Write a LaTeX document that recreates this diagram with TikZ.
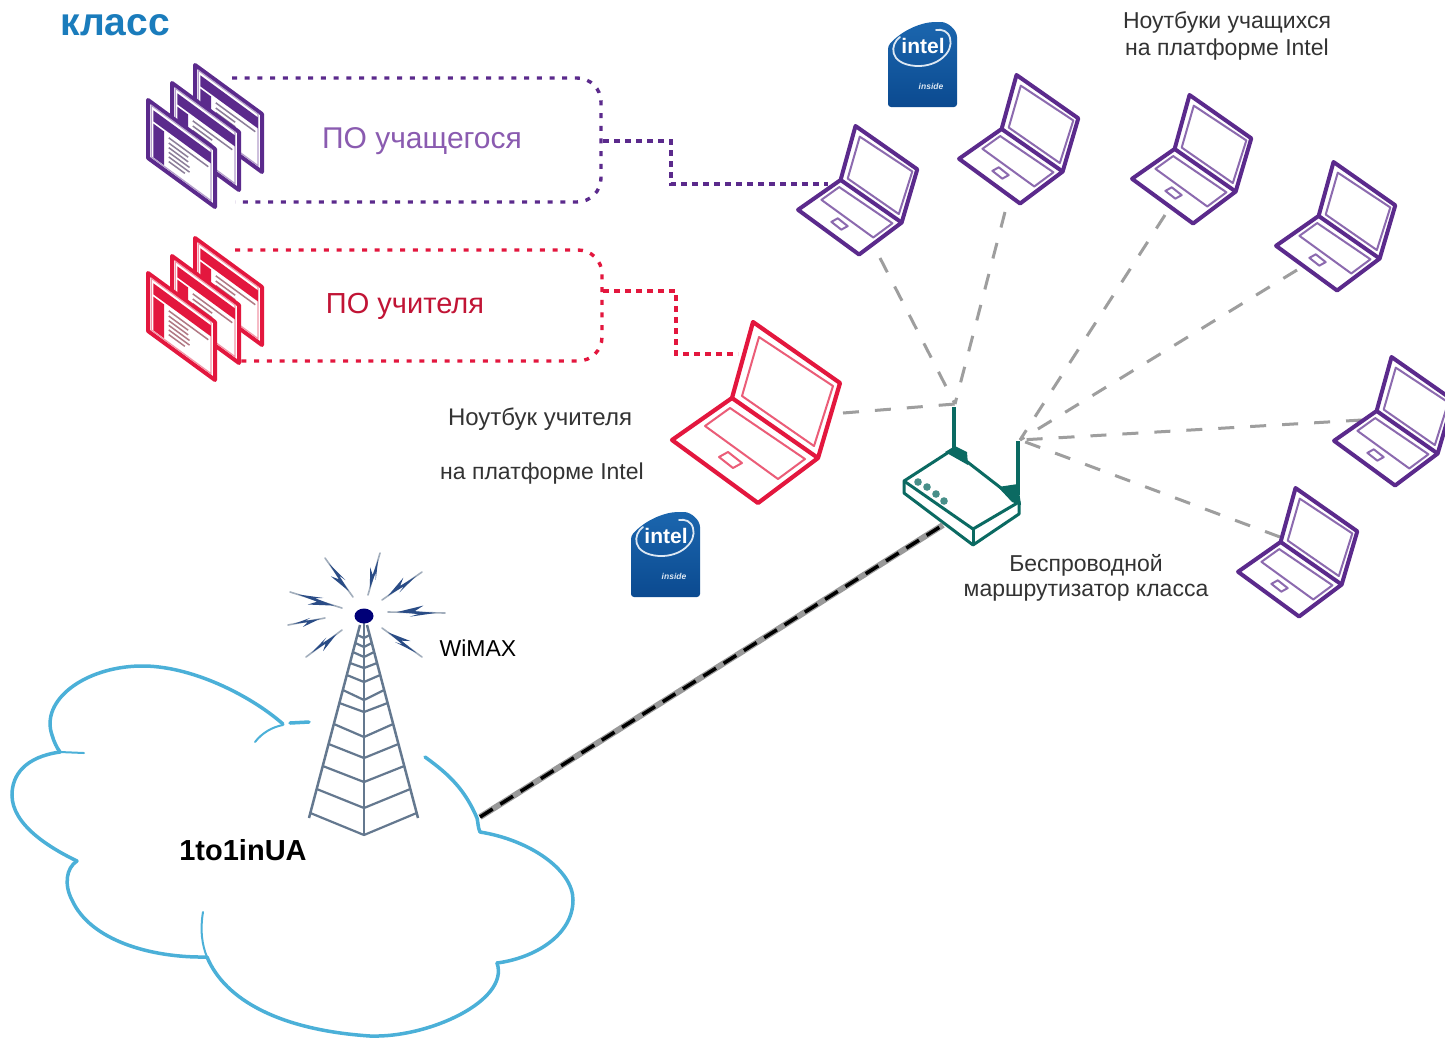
\documentclass[tikz,border=0pt]{standalone}
\usepackage{fontspec}
\setmainfont{Liberation Sans}
\usetikzlibrary{calc}
\definecolor{pur}{HTML}{5B2A8C}
\definecolor{purtxt}{HTML}{8A5BB0}
\definecolor{redc}{HTML}{E3173E}
\definecolor{teal2}{HTML}{0B6A62}
\definecolor{towerc}{HTML}{64788F}
\definecolor{cloudc}{HTML}{4BB0D8}
\definecolor{boltc}{HTML}{2A4C86}
\definecolor{intelt}{HTML}{1B66AE}
\definecolor{intelb}{HTML}{0B4A90}
\definecolor{txtc}{HTML}{333333}
\definecolor{titlec}{HTML}{1A7CBC}
\tikzset{
  x=1pt,y=-1pt,
  labeltext/.style={text=txtc,font=\fontsize{23}{27}\selectfont,inner sep=0pt,align=center},
  wifilink/.style={draw=black!38,line width=3pt,dash pattern=on 16pt off 16pt},
  dotbox/.style={line width=3.4pt,dash pattern=on 5pt off 7.7pt},
  dotlink/.style={line width=3.4pt,dash pattern=on 6pt off 5pt},
  cloudline/.style={draw=cloudc,line width=3.5pt,line cap=round},
  towerline/.style={draw=towerc,line width=2.5pt},
}
\newcommand{\laptopicon}[5]{%
\begin{scope}[shift={(#1,#2)},scale=#4]
 \filldraw[fill=white,draw=#3,line width=#5,line join=round]
   (81,0)--(168,61)--(146,136)--(86,181)--(0,118)--(60,76)--cycle;
 \draw[draw=#3,line width=#5,line join=round] (60,76)--(146,136);
 \draw[draw=#3!70,line width=2pt,line join=round]
   (87,15)--(161,64)--(142,124)--(70,74)--cycle;
 \draw[draw=#3!70,line width=2pt,line join=round]
   (58,86)--(133,137)--(106,157)--(33,104)--cycle;
 \draw[draw=#3!70,line width=2pt,line join=round]
   (56,130)--(70,141)--(61,146)--(47,135)--cycle;
\end{scope}}
\newcommand{\pageicon}[3]{%
\begin{scope}[shift={(#1,#2)},cm={.67,-.49,0,.58,(0,0)}]
 \filldraw[fill=white,draw=#3,line width=4pt,line join=round] (0,0)--(100,0)--(100,100)--(0,100)--cycle;
 \draw[draw=#3!45,line width=1.2pt] (5,5)--(94,5)--(94,94)--(5,94)--cycle;
 \fill[#3] (8,11)--(94,11)--(94,30)--(8,30)--cycle;
 \fill[#3] (8,34)--(24,34)--(24,92)--(8,92)--cycle;
 \foreach \v/\e in {39/90,48/60,56/60,64/62,72/62,80/55}{
   \draw[draw=#3!50!black!55,line width=1.5pt] (31,\v)--(\e,\v);}
\end{scope}}
\newcommand{\docstack}[3]{%
 \pageicon{#1+47}{#2-35}{#3}\pageicon{#1+24}{#2-17}{#3}\pageicon{#1}{#2}{#3}}
\newcommand{\intelbadge}[2]{%
\begin{scope}[shift={(#1,#2)}]
 \path[top color=intelt,bottom color=intelb,rounded corners=3pt]
   (0,24) .. controls (14,8) and (34,0) .. (50,0) .. controls (60,0) and (69,8) .. (69,18)
   -- (69,85) -- (0,85) -- cycle;
 \draw[white!85!intelt,line width=1.8pt,line cap=round]
   (12,15) .. controls (2,22) and (0,42) .. (28,44) .. controls (50,45) and (66,30) .. (62,16)
   .. controls (60,9) and (54,7) .. (48,8);
 \node[text=white,font=\fontsize{21}{21}\selectfont\bfseries,inner sep=0pt] at (35,24) {intel};
 \node[text=white!85!intelt,font=\fontsize{8.5}{9}\selectfont\bfseries\itshape,inner sep=0pt] at (43,64) {inside};
\end{scope}}
\newcommand{\boltray}[4]{%
 \coordinate (ba) at (#1,#2); \coordinate (bb) at (#3,#4);
 \draw[draw=towerc!60,line width=1.6pt,line cap=round] (ba)--(bb);
 \fill[boltc] ($(ba)!.15!(bb)$) -- ($(ba)!.62!(bb)!.2!90:(bb)$) -- ($(ba)!.47!(bb)!.05!90:(bb)$)
   -- ($(ba)!.85!(bb)$) -- ($(ba)!.38!(bb)!.2!-90:(bb)$) -- ($(ba)!.53!(bb)!.05!-90:(bb)$) -- cycle;}
\begin{document}
\begin{tikzpicture}
\useasboundingbox (0,0) rectangle (1445,1039);
\clip (0,0) rectangle (1445,1039);
\fill[white] (0,0) rectangle (1445,1039);

% named link ends
\coordinate (ant1) at (955,404);
\coordinate (ant2) at (1020,440);
\coordinate (l1) at (880,258);
\coordinate (l2) at (1005,212);
\coordinate (l3) at (1165,215);
\coordinate (l4) at (1297,270);
\coordinate (l5) at (1362,420);
\coordinate (l6) at (1280,537);
\coordinate (lred) at (843,413);
\coordinate (cableA) at (480,817);
\coordinate (cableB) at (943,525);
\coordinate (boxP) at (603,141);
\coordinate (boxR) at (603,291);
\coordinate (lapP) at (828,184);
\coordinate (lapR) at (738,354);

% title and texts
\node[text=titlec,inner sep=0pt,font=\fontsize{39}{39}\selectfont\bfseries] (title) at (115,25) {класс};
\node[text=purtxt,inner sep=0pt,font=\fontsize{30}{34}\selectfont] (tpo1) at (422,141) {ПО учащегося};
\node[text=redc!85!black,inner sep=0pt,font=\fontsize{29}{34}\selectfont] (tpo2) at (405,306) {ПО учителя};
\node[labeltext] (tst1) at (1227,22) {Ноутбуки учащихся};
\node[labeltext] (tst2) at (1227,50) {на платформе Intel};
\node[labeltext,font=\fontsize{24}{27}\selectfont] (tte1) at (540,419) {Ноутбук учителя};
\node[labeltext] (tte2) at (542,474) {на платформе Intel};
\node[labeltext] (tro1) at (1086,565) {Беспроводной};
\node[labeltext] (tro2) at (1086,593) {маршрутизатор класса};
\node[labeltext,text=black] (twi) at (478,648) {WiMAX};
\node[inner sep=0pt,font=\fontsize{29}{30}\selectfont\bfseries] (tcl) at (243,850) {1to1inUA};

% dotted software boxes
\draw[pur,dotbox,rounded corners=24pt] (232,78)--(601,78)--(601,202)--(235,202);
\draw[redc,dotbox,rounded corners=24pt] (235,250)--(602,250)--(602,361)--(240,361);
\draw[pur,dotlink] (boxP)--(671,141)--(671,184)--(lapP);
\draw[redc,dotlink] (boxR)--(676,291)--(676,354)--(lapR);

\docstack{148}{100}{pur}
\docstack{148}{273}{redc}

% Wi-Fi links
\foreach \e in {l1,l2,lred}{\path[wifilink] (\e)--(ant1);}
\foreach \e in {l3,l4,l5,l6}{\path[wifilink] (\e)--(ant2);}

% laptops
\laptopicon{798}{126}{pur}{.71}{4pt}
\laptopicon{959}{75}{pur}{.71}{4pt}
\laptopicon{1132}{95}{pur}{.71}{4pt}
\laptopicon{1276}{162}{pur}{.71}{4pt}
\laptopicon{1334}{357}{pur}{.71}{4pt}
\laptopicon{1238}{488}{pur}{.71}{4pt}
\laptopicon{672}{322}{redc}{1}{4.2pt}

\intelbadge{888}{22}
\intelbadge{631}{512}

% router
\begin{scope}[line width=3pt,line join=round]
 \draw[teal2,line width=4pt] (954,407)--(954,452);
 \draw[teal2,line width=4pt] (1018,441)--(1018,495);
 \filldraw[fill=white,draw=teal2] (904,481)--(952,450)--(1019,502)--(1019,514)--(973,545)--(904,493)--cycle;
 \draw[teal2] (904,481)--(973,529)--(1019,502);
 \draw[teal2] (973,529)--(973,545);
 \fill[teal2] (945,452)--(955,446)--(967,452)--(968,465)--cycle;
 \fill[teal2] (998,487)--(1018,484)--(1021,505)--(1012,502)--cycle;
 \foreach \p in {(918,482),(927,487),(936,494),(944,501)}{\fill[teal2!75] \p circle (3.8);}
\end{scope}

% cable
\draw[black!40,line width=6pt] (cableA)--(cableB);
\draw[black,line width=3.5pt,dash pattern=on 15pt off 9pt] (cableA)--(cableB);

% cloud
\draw[cloudline] (283,724) .. controls (250,695) and (190,665) .. (140,666)
   .. controls (85,667) and (40,700) .. (52,735) .. controls (54,742) and (57,748) .. (60,752);
\draw[cloudline,line width=2pt] (60,752) -- (84,753);
\draw[cloudline] (60,752) .. controls (25,757) and (12,775) .. (12,795)
   .. controls (12,825) and (50,848) .. (77,861);
\draw[cloudline] (77,861) .. controls (66,868) and (64,885) .. (72,900)
   .. controls (90,940) and (150,958) .. (207,957);
\draw[cloudline,line width=2pt] (203,912) .. controls (200,930) and (202,945) .. (207,957);
\draw[cloudline] (207,957) .. controls (225,1000) and (280,1030) .. (370,1036)
   .. controls (430,1038) and (510,1000) .. (497,963);
\draw[cloudline] (497,963) .. controls (535,958) and (573,935) .. (573,900)
   .. controls (573,870) and (530,840) .. (480,832);
\draw[cloudline] (480,832) .. controls (478,828) and (478,822) .. (477,818)
   .. controls (465,790) and (450,775) .. (425,757);
\draw[cloudline,line width=2pt] (255,742) .. controls (262,733) and (272,727) .. (283,725);
\draw[cloudline] (290,723)--(309,722);

% tower
\draw[towerline] (360,625)--(309,818);
\draw[towerline] (367,625)--(418,818);
\draw[towerline] (364,623)--(364,835);
\foreach \a/\b in {813/835,789/808,766/782,744/758,724/737,703/712,690/700,675/682,663/668,652/657,643/647,635/638}{
  \pgfmathsetmacro{\dd}{.264*(\a-625)}
  \draw[towerline,line width=2.2pt] (360-\dd,\a)--(364,\b)--(367+\dd,\a);
}
\fill[black!15!blue!55!black] (364,616) ellipse (9.5 and 7.5);

% radio bolts
\boltray{325}{558}{353}{597}
\boltray{380}{553}{368}{595}
\boltray{422}{572}{382}{600}
\boltray{445}{613}{388}{612}
\boltray{422}{657}{382}{628}
\boltray{290}{592}{342}{608}
\boltray{288}{625}{325}{618}
\boltray{306}{657}{342}{630}
\end{tikzpicture}
\end{document}
